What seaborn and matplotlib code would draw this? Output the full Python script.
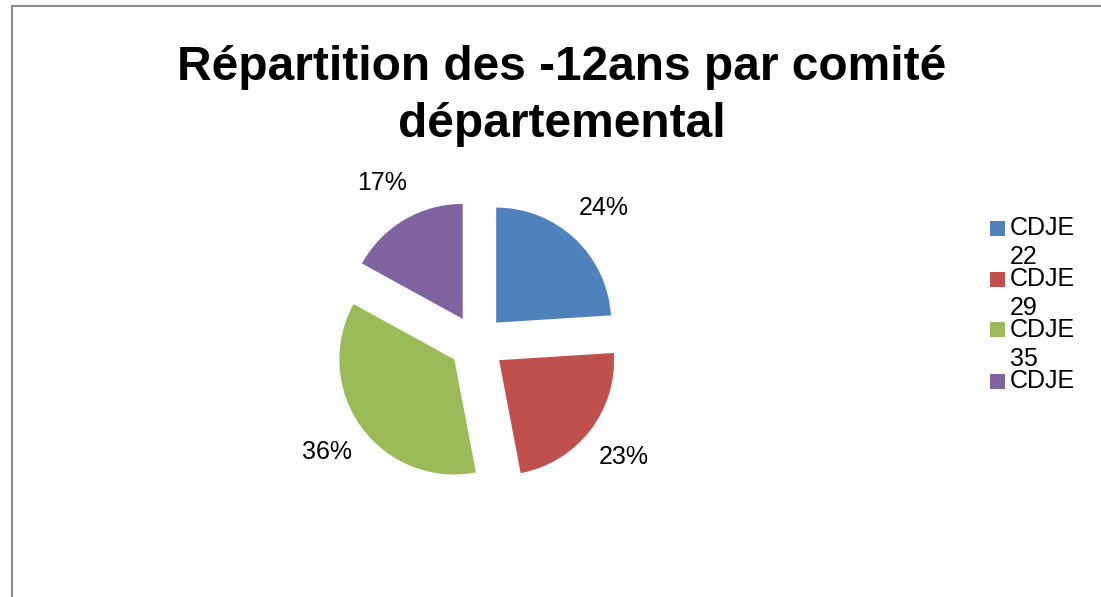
import numpy as np
import matplotlib.pyplot as plt
import matplotlib.patches as mpatches
import seaborn as sns

# data
comites = ['CDJE 22', 'CDJE 29', 'CDJE 35', 'CDJE']
parts = [24, 23, 36, 17]
couleurs = ['#4F81BD', '#C0504D', '#9BBB59', '#8064A2']

sns.set_style('white')
plt.rcParams['font.family'] = ['Liberation Sans', 'DejaVu Sans']
plt.rcParams['text.color'] = 'black'

W, H = 1101, 597
fig = plt.figure(figsize=(W / 100, H / 100), dpi=100)
ax = fig.add_axes([0, 0, 1, 1])

palette = sns.color_palette(couleurs)
# explode is in data units here (1 unit = 1 px)
wedges, texts, autotexts = ax.pie(
    parts, colors=palette, startangle=90, counterclock=False,
    explode=[28] * len(parts), radius=115, center=(477, H - 343),
    autopct='%1.0f%%', pctdistance=1.37,
    wedgeprops={'linewidth': 0}, textprops={'fontsize': 18, 'color': 'black'})

ax.set_xlim(0, W)
ax.set_ylim(0, H)
ax.set_aspect('equal', adjustable='box')
ax.axis('off')

# title
fig.text(562 / W, 1 - 80 / H, 'Répartition des -12ans par comité',
         ha='center', va='baseline', fontsize=34.5, fontweight='bold', color='black')
fig.text(562 / W, 1 - 137 / H, 'départemental',
         ha='center', va='baseline', fontsize=34.5, fontweight='bold', color='black')

# legend (text wraps onto two lines like the original)
for i, (nom, c) in enumerate(zip(comites, couleurs)):
    y = 228 + i * 51
    fig.add_artist(mpatches.Rectangle((990 / W, 1 - (y + 7.5) / H), 15 / W, 15 / H,
                                      transform=fig.transFigure, color=c, lw=0))
    fig.text(1010 / W, 1 - y / H, nom.split(' ')[0], ha='left', va='center',
             fontsize=18, color='black')
    if ' ' in nom:
        fig.text(1010 / W, 1 - (y + 29) / H, nom.split(' ')[1], ha='left', va='center',
                 fontsize=18, color='black')

# chart border
fig.add_artist(mpatches.Rectangle((12 / W, -0.1), 1.2, (H - 6) / H + 0.1,
                                  transform=fig.transFigure, fill=False,
                                  ec='#8c8c8c', lw=1.5))

plt.savefig('out.png', dpi=100)
